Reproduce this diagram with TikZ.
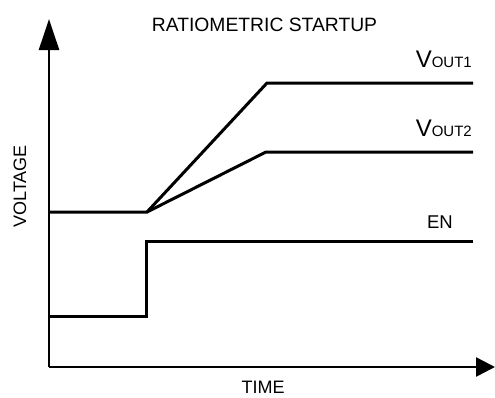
\documentclass[tikz,border=0pt]{standalone}
\usepackage{fontspec}
\setmainfont{Liberation Sans}
\usetikzlibrary{arrows.meta}
\begin{document}
\begin{tikzpicture}[x=1pt,y=-1pt,
  axis/.style={line width=2.5pt},
  sig/.style={line width=3pt},
  lbl/.style={inner sep=0pt,font=\fontsize{19}{19}\selectfont}]
\useasboundingbox (0,0) rectangle (495,397);
% axes
\coordinate (o) at (49,367);
\coordinate (ytip) at (49,19);
\coordinate (xtip) at (495,367);
\draw[axis,-{Triangle[length=31pt,width=20pt]}] (o) -- (ytip);
\draw[axis,-{Triangle[length=19pt,width=19pt]}] (o) -- (xtip);
% VOUT waveforms
\coordinate (v0) at (49,212);
\coordinate (vk) at (147,212);
\coordinate (v1a) at (267,83);
\coordinate (v1b) at (473,83);
\coordinate (v2a) at (266,152);
\coordinate (v2b) at (473,152);
\draw[sig] (v0) -- (vk) -- (v1a) -- (v1b);
\draw[sig] (vk) -- (v2a) -- (v2b);
% EN waveform
\coordinate (e0) at (48,316);
\coordinate (e1) at (146,316);
\coordinate (e2) at (146,241);
\coordinate (e3) at (473,241);
\draw[sig] (e0) -- (e1) -- (e2) -- (e3);
% labels
\node[lbl,anchor=base,font=\fontsize{19.3}{19.3}\selectfont] (title) at (264.5,31) {RATIOMETRIC STARTUP};
\node[lbl,anchor=base east,font=\fontsize{24}{24}\selectfont] (vout1) at (472,67)
  {V{\fontsize{15}{15}\selectfont OUT1}};
\node[lbl,anchor=base east,font=\fontsize{24}{24}\selectfont] (vout2) at (472,136)
  {V{\fontsize{15}{15}\selectfont OUT2}};
\node[lbl,anchor=base east,font=\fontsize{18.5}{18.5}\selectfont] (en) at (453,228) {EN};
\node[lbl,anchor=base,font=\fontsize{18}{18}\selectfont] (time) at (263,393.5) {TIME};
\node[lbl,anchor=base,rotate=90,font=\fontsize{18}{18}\selectfont] (volt) at (26,186.5) {VOLTAGE};
\end{tikzpicture}
\end{document}
